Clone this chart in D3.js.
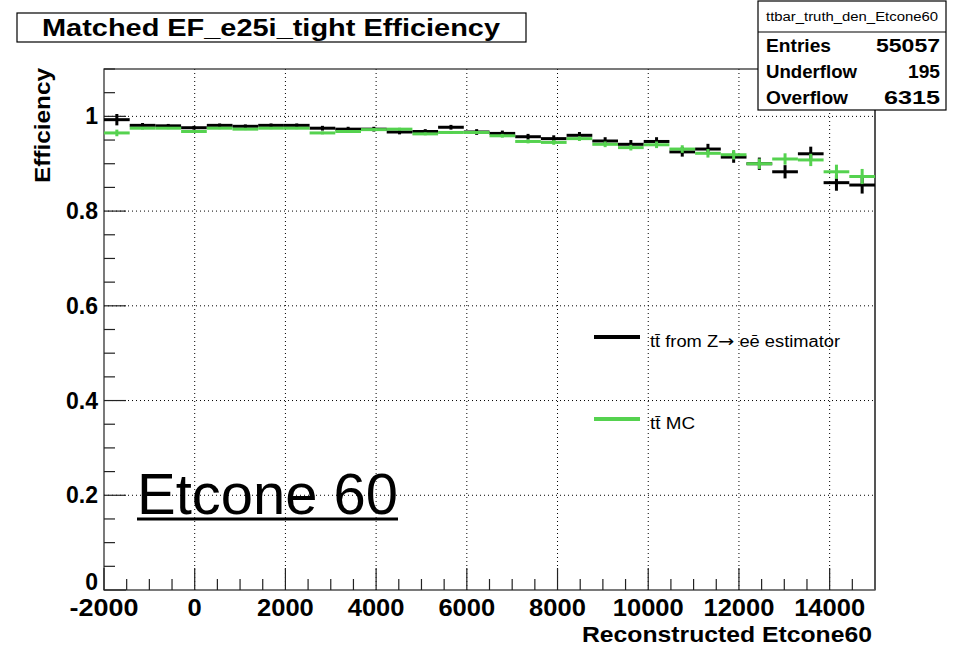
<!DOCTYPE html>
<html>
<head>
<meta charset="utf-8">
<script src="https://cdn.jsdelivr.net/npm/d3@7/dist/d3.min.js"></script>
<style>
  html, body { margin: 0; padding: 0; background: #fff; }
  svg { display: block; }
  text { font-family: "Liberation Sans", Arial, Helvetica, sans-serif; }
</style>
</head>
<body>
<svg id="chart" width="958" height="647"></svg>
<script>
// ---------------- data ----------------
const histRange = [-2000, 15000];
const nBins = 30;
const estimatorEff = [0.993, 0.981, 0.980, 0.976, 0.981, 0.979, 0.981, 0.981, 0.975, 0.973,
                      0.973, 0.967, 0.968, 0.977, 0.967, 0.964, 0.957, 0.953, 0.960, 0.948,
                      0.941, 0.947, 0.925, 0.931, 0.914, 0.900, 0.883, 0.921, 0.860, 0.855];
const estimatorErr = [0.012, 0.005, 0.004, 0.004, 0.004, 0.004, 0.004, 0.004, 0.005, 0.005,
                      0.005, 0.005, 0.005, 0.005, 0.006, 0.006, 0.006, 0.007, 0.007, 0.008,
                      0.009, 0.009, 0.010, 0.011, 0.012, 0.013, 0.014, 0.015, 0.017, 0.018];
const mcEff        = [0.965, 0.975, 0.975, 0.968, 0.975, 0.973, 0.975, 0.975, 0.965, 0.968,
                      0.972, 0.973, 0.963, 0.966, 0.966, 0.959, 0.947, 0.945, 0.953, 0.941,
                      0.934, 0.940, 0.931, 0.922, 0.919, 0.900, 0.910, 0.908, 0.883, 0.873];
const mcErr        = [0.007, 0.003, 0.002, 0.002, 0.002, 0.002, 0.002, 0.002, 0.003, 0.003,
                      0.003, 0.003, 0.003, 0.003, 0.003, 0.004, 0.004, 0.005, 0.005, 0.006,
                      0.006, 0.007, 0.008, 0.009, 0.010, 0.011, 0.012, 0.013, 0.015, 0.016];
const xTickValues = [-2000, 0, 2000, 4000, 6000, 8000, 10000, 12000, 14000];
const xTickLabels = ["-2000", "0", "2000", "4000", "6000", "8000", "10000", "12000", "14000"];
const yTickValues = [0, 0.2, 0.4, 0.6, 0.8, 1];
const yTickLabels = ["0", "0.2", "0.4", "0.6", "0.8", "1"];
const statsTitle = "ttbar_truth_den_Etcone60";
const statsNames = ["Entries", "Underflow", "Overflow"];
const statsValues = ["55057", "195", "6315"];
const titleText = "Matched EF_e25i_tight Efficiency";
const xTitle = "Reconstructed Etcone60";
const yTitle = "Efficiency";
const legendLabels = [["tt\u0304 from Z", "\u2192", " ee\u0304 estimator"], ["tt\u0304 MC"]];
const annotation = "Etcone 60";

// ---------------- layout ----------------
const svg = d3.select("#chart");
const L = 104, R = 875, T = 69, B = 590;
const x = d3.scaleLinear().domain(histRange).range([L, R]);
const y = d3.scaleLinear().domain([0, 1.1]).range([B, T]);
const binW = (histRange[1] - histRange[0]) / nBins;
const bins = d3.range(nBins).map(i => [histRange[0] + i * binW, histRange[0] + (i + 1) * binW]);

function fit(sel, w) { sel.attr("textLength", w).attr("lengthAdjust", "spacingAndGlyphs"); return sel; }

// grid (dotted)
const grid = svg.append("g").attr("stroke", "#000").attr("stroke-width", 1).attr("stroke-dasharray", "1,3");
xTickValues.filter(v => v > histRange[0]).forEach(v => {
  grid.append("line").attr("x1", x(v)).attr("x2", x(v)).attr("y1", B).attr("y2", T);
});
yTickValues.filter(v => v > 0).forEach(v => {
  grid.append("line").attr("x1", L).attr("x2", R).attr("y1", y(v)).attr("y2", y(v));
});

// axes with ticks inside the frame
const xMinor = d3.range(histRange[0], histRange[1] + 1, 500);
const yMinor = d3.range(0, 1.1001, 0.05);
const tg = svg.append("g").attr("stroke", "#222").attr("stroke-width", 1.2);
xMinor.forEach(v => {
  const major = xTickValues.includes(v);
  tg.append("line").attr("x1", x(v)).attr("x2", x(v)).attr("y1", B).attr("y2", B - (major ? 22 : 11));
});
yMinor.forEach(v => {
  const major = yTickValues.some(t => Math.abs(t - v) < 1e-6);
  tg.append("line").attr("x1", L).attr("x2", L + (major ? 22 : 11)).attr("y1", y(v)).attr("y2", y(v));
});

// frame
svg.append("rect").attr("x", L).attr("y", T).attr("width", R - L).attr("height", B - T)
  .attr("fill", "none").attr("stroke", "#222").attr("stroke-width", 1.2);
svg.append("line").attr("x1", R).attr("x2", R).attr("y1", T).attr("y2", B)
  .attr("stroke", "#555").attr("stroke-width", 2);

// tick labels
xTickValues.forEach((v, i) => {
  const w = xTickLabels[i].length * 14.2 - (xTickLabels[i][0] === "-" ? 2 : 0);
  fit(svg.append("text").attr("x", x(v)).attr("y", 616).attr("text-anchor", "middle")
    .attr("font-size", 23).attr("font-weight", "bold").attr("fill", "#000").text(xTickLabels[i]), w);
});
yTickValues.forEach((v, i) => {
  svg.append("text").attr("x", 98).attr("y", v === 0 ? y(v) : y(v) + 8).attr("text-anchor", "end")
    .attr("font-size", 23).attr("font-weight", "bold").attr("fill", "#000").text(yTickLabels[i]);
});

// axis titles
fit(svg.append("text").attr("x", 872).attr("y", 642).attr("text-anchor", "end")
  .attr("font-size", 22).attr("font-weight", "bold").text(xTitle), 290);
fit(svg.append("text").attr("transform", "translate(50,68) rotate(-90)").attr("text-anchor", "end")
  .attr("font-size", 22).attr("font-weight", "bold").text(yTitle), 115);

// histograms with error bars
function drawHist(vals, errs, color) {
  const g = svg.append("g").attr("stroke", color).attr("stroke-width", 3).attr("fill", "none");
  g.selectAll("line.h").data(bins).join("line").attr("class", "h")
    .attr("x1", d => x(d[0])).attr("x2", d => x(d[1]))
    .attr("y1", (d, i) => y(vals[i])).attr("y2", (d, i) => y(vals[i]));
  g.selectAll("line.v").data(bins).join("line").attr("class", "v")
    .attr("x1", d => x((d[0] + d[1]) / 2)).attr("x2", d => x((d[0] + d[1]) / 2))
    .attr("y1", (d, i) => y(vals[i] - errs[i])).attr("y2", (d, i) => y(vals[i] + errs[i]));
}
drawHist(estimatorEff, estimatorErr, "#000");
drawHist(mcEff, mcErr, "#55d24f");

// legend
const legColors = ["#000", "#55d24f"];
const legY = [337, 419];
const legW = [190, 45];
legendLabels.forEach((parts, i) => {
  svg.append("line").attr("x1", 594).attr("x2", 640).attr("y1", legY[i]).attr("y2", legY[i])
    .attr("stroke", legColors[i]).attr("stroke-width", 4);
  const t = svg.append("text").attr("x", 650).attr("y", legY[i] + 10).attr("font-size", 16).attr("fill", "#000");
  parts.forEach(p => {
    const ts = t.append("tspan").text(p);
    if (p === "\u2192") ts.attr("font-family", "DejaVu Sans").attr("font-size", 17);
  });
  fit(t, legW[i]);
});

// annotation
fit(svg.append("text").attr("x", 137).attr("y", 514).attr("font-size", 57).attr("fill", "#000").text(annotation), 261);
svg.append("line").attr("x1", 137).attr("x2", 398).attr("y1", 519).attr("y2", 519)
  .attr("stroke", "#000").attr("stroke-width", 3);

// title box
svg.append("rect").attr("x", 17).attr("y", 13).attr("width", 509).attr("height", 29)
  .attr("fill", "#fff").attr("stroke", "#000").attr("stroke-width", 1.2);
fit(svg.append("text").attr("x", 271).attr("y", 36).attr("text-anchor", "middle")
  .attr("font-size", 24).attr("font-weight", "bold").text(titleText), 458);

// stats box
svg.append("rect").attr("x", 758).attr("y", 1).attr("width", 188).attr("height", 109)
  .attr("fill", "#fff").attr("stroke", "#000").attr("stroke-width", 1.2);
svg.append("line").attr("x1", 758).attr("x2", 946).attr("y1", 32).attr("y2", 32)
  .attr("stroke", "#000").attr("stroke-width", 1.2);
fit(svg.append("text").attr("x", 852).attr("y", 21).attr("text-anchor", "middle")
  .attr("font-size", 12).text(statsTitle), 172);
const rowY = [52, 78, 104];
const nameW = [65, 91, 82];
const valW = [64, 32, 56];
statsNames.forEach((n, i) => {
  fit(svg.append("text").attr("x", 766).attr("y", rowY[i]).attr("font-size", 18).attr("font-weight", "bold").text(n), nameW[i]);
  fit(svg.append("text").attr("x", 940).attr("y", rowY[i]).attr("text-anchor", "end").attr("font-size", 18).attr("font-weight", "bold").text(statsValues[i]), valW[i]);
});
</script>
</body>
</html>
